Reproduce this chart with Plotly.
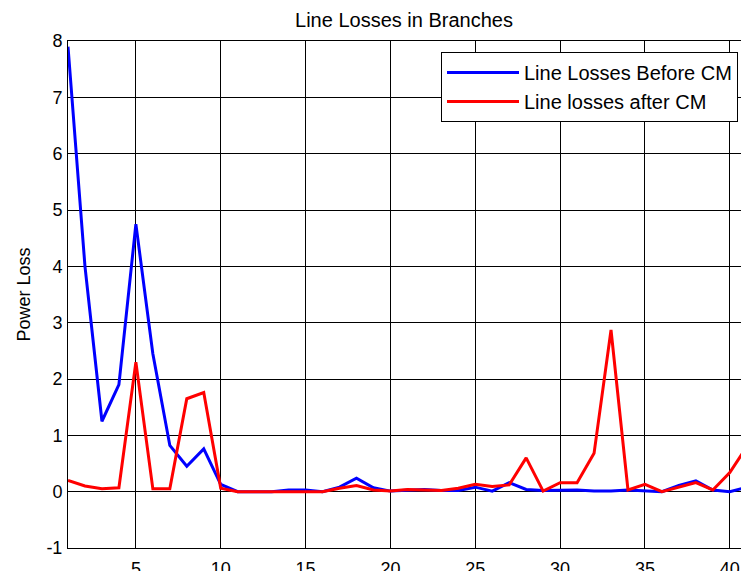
import plotly.graph_objects as go

branches = list(range(1, 42))
loss_before = [7.9, 4.0, 1.25, 1.9, 4.75, 2.45, 0.82, 0.45, 0.76, 0.13,
               0.0, 0.0, 0.0, 0.03, 0.03, 0.0, 0.08, 0.24, 0.07, 0.01,
               0.02, 0.04, 0.02, 0.02, 0.08, 0.01, 0.16, 0.04, 0.02, 0.03,
               0.03, 0.01, 0.01, 0.03, 0.02, 0.0, 0.11, 0.19, 0.03, 0.0, 0.08]
loss_after = [0.2, 0.1, 0.05, 0.07, 2.3, 0.05, 0.05, 1.65, 1.76, 0.06,
              0.0, 0.0, 0.0, 0.01, 0.01, 0.0, 0.06, 0.11, 0.03, 0.01,
              0.04, 0.03, 0.02, 0.06, 0.13, 0.09, 0.12, 0.6, 0.01, 0.16,
              0.16, 0.68, 2.87, 0.03, 0.13, 0.0, 0.08, 0.16, 0.03, 0.34, 0.8]
x_ticks = [5, 10, 15, 20, 25, 30, 35, 40]
y_ticks = [-1, 0, 1, 2, 3, 4, 5, 6, 7, 8]
y_tick_labels = ["-1", "0", "1", "2", "3", "4", "5", "6", "7", "8"]

FONT = "Liberation Sans, Arial, sans-serif"

fig = go.Figure()
fig.add_trace(go.Scatter(x=branches, y=loss_before, mode="lines",
                         name="Line Losses Before CM",
                         line=dict(color="#0000FF", width=3)))
fig.add_trace(go.Scatter(x=branches, y=loss_after, mode="lines",
                         name="Line losses after CM",
                         line=dict(color="#FF0000", width=3)))

W, H = 741, 571
L, T = 68, 41
B = H - 548
PW, PH = W - L, H - T - B
fig.update_layout(
    width=W, height=H,
    margin=dict(l=L, r=0, t=T, b=B, pad=0),
    paper_bgcolor="white", plot_bgcolor="white",
    font=dict(family=FONT, size=18, color="black"),
    title=dict(text="Line Losses in Branches", font=dict(family=FONT, size=20, color="black"),
               x=(404 - L) / PW, xref="paper", xanchor="center",
               y=1 - 19.5 / H, yref="container", yanchor="middle", automargin=False),
    showlegend=True,
    legend=dict(x=(738 - L) / PW, y=(548 - 52) / PH, xanchor="right", yanchor="top",
                xref="paper", yref="paper",
                bgcolor="white", bordercolor="black", borderwidth=1,
                itemwidth=72, tracegroupgap=0,
                font=dict(family=FONT, size=20, color="black")),
    xaxis=dict(range=[1, 40.66], tickvals=x_ticks, showgrid=True, gridcolor="black", gridwidth=1,
               zeroline=False, showline=True, linecolor="black", linewidth=1, mirror=True,
               ticks="", automargin=False, ticklabelstandoff=4,
               tickfont=dict(family=FONT, size=18, color="black")),
    yaxis=dict(range=[-1, 8], tickvals=y_ticks, ticktext=y_tick_labels,
               showgrid=True, gridcolor="black", gridwidth=1,
               zeroline=False, showline=True, linecolor="black", linewidth=1,
               ticks="", ticklabelstandoff=1, automargin=False,
               title=dict(text="Power Loss", font=dict(family=FONT, size=18, color="black"), standoff=11),
               tickfont=dict(family=FONT, size=18, color="black")),
)

# remove the browser's default page margin so the figure fills the window exactly
page_js = ("document.documentElement.style.margin='0';document.body.style.margin='0';"
           "document.documentElement.style.overflow='hidden';document.body.style.overflow='hidden';")
fig.write_html("out.html", post_script=page_js, config={"displayModeBar": False})
